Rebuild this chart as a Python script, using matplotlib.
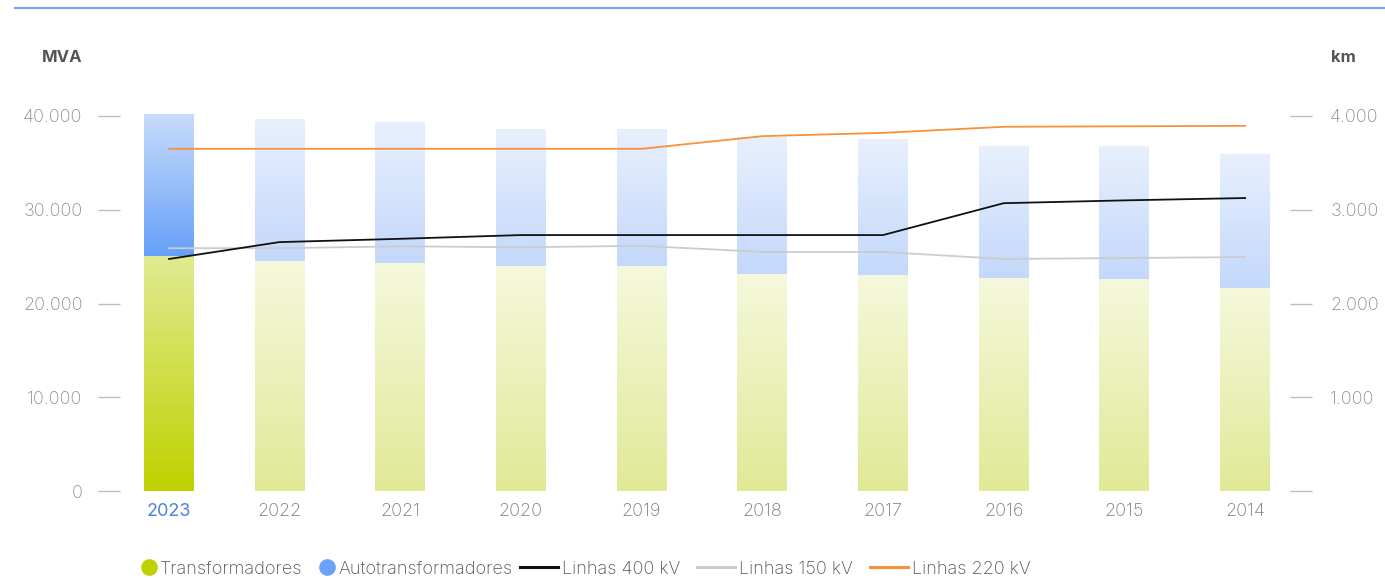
import numpy as np
import matplotlib
matplotlib.use("Agg")
import matplotlib.pyplot as plt
from matplotlib.colors import LinearSegmentedColormap
from matplotlib.lines import Line2D
from matplotlib.ticker import FixedLocator, FuncFormatter

plt.rcParams['font.family'] = ['Inter', 'DejaVu Sans']

# ---- data ----
years = ["2023", "2022", "2021", "2020", "2019", "2018", "2017", "2016", "2015", "2014"]
transformadores = [25070, 24530, 24320, 24000, 24000, 23150, 23040, 22720, 22610, 21650]
autotransformadores = [15140, 15150, 15040, 14610, 14610, 14610, 14510, 14080, 14190, 14300]
linhas_400 = [2475, 2655, 2690, 2730, 2730, 2730, 2730, 3070, 3100, 3125]
linhas_150 = [2590, 2590, 2610, 2600, 2615, 2550, 2550, 2475, 2485, 2495]
linhas_220 = [3650, 3650, 3650, 3650, 3650, 3785, 3820, 3885, 3890, 3895]
mva_ticks = [0, 10000, 20000, 30000, 40000]
km_ticks = [0, 1000, 2000, 3000, 4000]
legend_labels = ["Transformadores", "Autotransformadores", "Linhas 400 kV", "Linhas 150 kV", "Linhas 220 kV"]

W, H = 1385, 578
fig = plt.figure(figsize=(W / 100, H / 100), dpi=100)

ax_left, ax_right_px = 120, 1290
ax_bottom_px, ax_top_px = 491, 97.25
ax = fig.add_axes([ax_left / W, (H - ax_bottom_px) / H,
                   (ax_right_px - ax_left) / W, (ax_bottom_px - ax_top_px) / H])

# category positions (the first, highlighted year sits slightly closer to the next one)
x = np.arange(len(years), dtype=float)
x[0] += 0.085
bw = 0.414

def grad_cmap(c0, c1):
    return LinearSegmentedColormap.from_list("g", [c0, c1])

active_green = grad_cmap("#bfd200", "#e0ea92")
active_blue = grad_cmap("#66a0f8", "#c8dcfc")
fade_green = grad_cmap("#e1e996", "#f5f8dc")
fade_blue = grad_cmap("#c3d8fb", "#e8f0fd")

grad = np.linspace(0, 1, 256).reshape(-1, 1)

bars_t = ax.bar(x, transformadores, width=bw, color="none", linewidth=0)
bars_a = ax.bar(x, autotransformadores, width=bw, bottom=transformadores, color="none", linewidth=0)

for i, (pt, pa) in enumerate(zip(bars_t, bars_a)):
    for patch, cm in ((pt, active_green if i == 0 else fade_green),
                      (pa, active_blue if i == 0 else fade_blue)):
        x0, y0 = patch.get_x(), patch.get_y()
        w, h = patch.get_width(), patch.get_height()
        im = ax.imshow(grad, cmap=cm, extent=(x0, x0 + w, y0, y0 + h),
                       origin="lower", aspect="auto", interpolation="bilinear", zorder=1)
        im.set_clip_path(patch)

ax.set_xlim(-0.3215, 9.372)
ax.set_ylim(0, 42000)
for s in ax.spines.values():
    s.set_visible(False)

ax.yaxis.set_major_locator(FixedLocator(mva_ticks))
fmt = FuncFormatter(lambda v, p: f"{v:,.0f}".replace(",", "."))
ax.yaxis.set_major_formatter(fmt)
ax.tick_params(axis="y", length=16, width=1.0, color="#bdbdbd", pad=11,
               labelsize=13, labelcolor="#8c8c8c")
ax.set_xticks(x)
ax.set_xticklabels(years)
ax.tick_params(axis="x", length=0, pad=9, labelsize=13, labelcolor="#7a7a7a")
ax.get_xticklabels()[0].set_color("#4f82e0")
ax.get_xticklabels()[0].set_fontweight("normal")
for t in ax.get_yticklabels() + ax.get_xticklabels()[1:]:
    t.set_fontweight("light")

ax2 = ax.twinx()
ax2.set_ylim(0, 4200)
for s in ax2.spines.values():
    s.set_visible(False)
ax2.yaxis.set_major_locator(FixedLocator(km_ticks))
ax2.yaxis.set_major_formatter(FuncFormatter(lambda v, p: "" if v == 0 else f"{v:,.0f}".replace(",", ".")))
ax2.tick_params(axis="y", length=16, width=1.0, color="#bdbdbd", pad=13,
                labelsize=13, labelcolor="#8c8c8c")
for t in ax2.get_yticklabels():
    t.set_fontweight("light")

ax2.plot(x, linhas_220, color="#f7923a", lw=1.3, zorder=3)
ax2.plot(x, linhas_150, color="#cccccc", lw=1.3, zorder=3)
ax2.plot(x, linhas_400, color="#111111", lw=1.3, zorder=4)

fig.text(62 / W, 1 - 57 / H, "MVA", ha="center", va="center", fontsize=12,
         fontweight="bold", color="#555555")
fig.text(1343 / W, 1 - 57 / H, "km", ha="center", va="center", fontsize=12,
         fontweight="bold", color="#555555")

fig.add_artist(Line2D([15 / W, 1.0], [1 - 8 / H, 1 - 8 / H], color="#77aaf5", lw=1.6))

marker_handles = [
    Line2D([], [], marker="o", linestyle="none", markersize=11, color="#bfd200"),
    Line2D([], [], marker="o", linestyle="none", markersize=11, color="#6aa2f8"),
]
line_handles = [
    Line2D([], [], color="#111111", lw=2.2),
    Line2D([], [], color="#cccccc", lw=2.2),
    Line2D([], [], color="#f7923a", lw=2.2),
]
ly = 1 - 569 / H
leg1 = fig.legend(marker_handles, legend_labels[:2], loc="center right", bbox_to_anchor=(512 / W, ly),
                  ncol=2, frameon=False, fontsize=13, handlelength=0.8, handletextpad=0.2,
                  columnspacing=1.0, labelcolor="#555555", borderpad=0, borderaxespad=0)
leg2 = fig.legend(line_handles, legend_labels[2:], loc="center left", bbox_to_anchor=(520 / W, ly),
                  ncol=3, frameon=False, fontsize=13, handlelength=2.1, handletextpad=0.22,
                  columnspacing=0.95, labelcolor="#555555", borderpad=0, borderaxespad=0)
for lg in (leg1, leg2):
    for t in lg.get_texts():
        t.set_fontweight("light")

fig.savefig("out.png", dpi=100)
